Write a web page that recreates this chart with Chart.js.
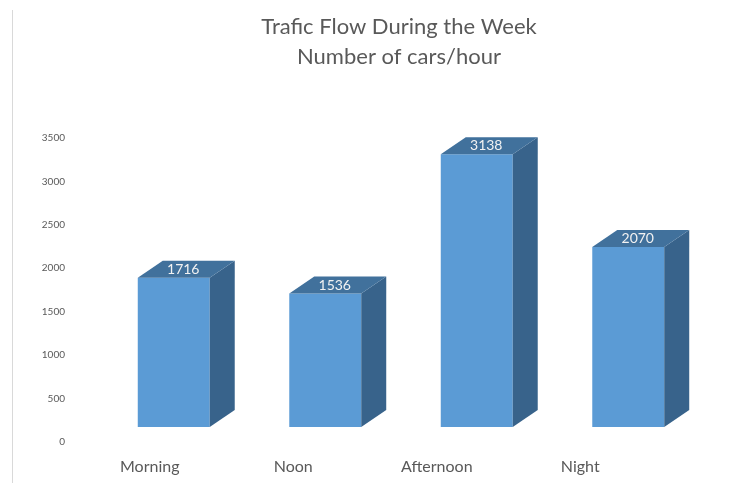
<!DOCTYPE html>
<html>
<head>
<meta charset="utf-8">
<script src="https://cdn.jsdelivr.net/npm/chart.js@4.4.0/dist/chart.umd.min.js"></script>
<style>
    html, body { margin: 0; padding: 0; background: #ffffff; }
    #wrap { width: 751px; height: 483px; position: relative; }
</style>
</head>
<body>
<div id="wrap"><canvas id="myChartTrafego"></canvas></div>
<script>
const categorias = ['Morning', 'Noon', 'Afternoon', 'Night'];
const carrosPorHora = [1716, 1536, 3138, 2070];
const ticksY = [0, 500, 1000, 1500, 2000, 2500, 3000, 3500];
const tituloLinhas = ['Trafic Flow During the Week', 'Number of cars/hour'];

const corFrente = '#5b9bd5';
const corTopo = '#41719c';
const corLado = '#38638b';
const corTexto = '#595959';

// profundidade do efeito 3d
const prof = { dx: 25, dy: 17 };

const barras3d = {
    id: 'barras3d',
    beforeDraw(chart) {
        // linha fina da borda esquerda da imagem original
        const ctx = chart.ctx;
        ctx.save();
        ctx.strokeStyle = '#d9d9d9';
        ctx.lineWidth = 1;
        ctx.beginPath();
        ctx.moveTo(12.5, 10);
        ctx.lineTo(12.5, 483);
        ctx.stroke();
        ctx.restore();
    },
    afterDatasetsDraw(chart) {
        const ctx = chart.ctx;
        const meta = chart.getDatasetMeta(0);
        ctx.save();
        meta.data.forEach((bar, i) => {
            const p = bar.getProps(['x', 'y', 'base', 'width'], true);
            const esq = p.x - p.width / 2;
            const dir = p.x + p.width / 2;

            // lado
            ctx.fillStyle = corLado;
            ctx.beginPath();
            ctx.moveTo(dir, p.y);
            ctx.lineTo(dir + prof.dx, p.y - prof.dy);
            ctx.lineTo(dir + prof.dx, p.base - prof.dy);
            ctx.lineTo(dir, p.base);
            ctx.closePath();
            ctx.fill();

            // topo
            ctx.fillStyle = corTopo;
            ctx.beginPath();
            ctx.moveTo(esq, p.y);
            ctx.lineTo(esq + prof.dx, p.y - prof.dy);
            ctx.lineTo(dir + prof.dx, p.y - prof.dy);
            ctx.lineTo(dir, p.y);
            ctx.closePath();
            ctx.fill();

            // valor no topo
            ctx.fillStyle = '#f2f2f2';
            ctx.font = '14px Lato';
            ctx.textAlign = 'center';
            ctx.textBaseline = 'middle';
            ctx.fillText(carrosPorHora[i], p.x + prof.dx / 2 - 3, p.y - prof.dy / 2);
        });

        // rotulos das categorias (deslocados pela perspectiva)
        const escalaX = chart.scales.x;
        ctx.fillStyle = corTexto;
        ctx.font = '16px Lato';
        ctx.textAlign = 'center';
        ctx.textBaseline = 'middle';
        categorias.forEach((nome, i) => {
            const x = escalaX.getPixelForValue(i) - 24 - 8 * i;
            ctx.fillText(nome, x, chart.chartArea.bottom + 40);
        });
        ctx.restore();
    }
};

const ctxTrafego = document.getElementById('myChartTrafego');
const dataTrafego = {
    labels: categorias,
    datasets: [{
        label: 'Cars/hour',
        data: carrosPorHora,
        backgroundColor: corFrente,
        borderWidth: 0,
        barPercentage: 0.475,
        categoryPercentage: 1
    }]
};
const configTrafego = {
    type: 'bar',
    data: dataTrafego,
    options: {
        responsive: true,
        maintainAspectRatio: false,
        animation: false,
        layout: {
            // direita negativa para o titulo ficar centrado como no original
            padding: { left: 0, right: -47, top: 0, bottom: 56 }
        },
        plugins: {
            legend: { display: false },
            tooltip: { enabled: false },
            title: {
                display: true,
                text: tituloLinhas,
                color: corTexto,
                font: { family: 'Lato', size: 22, weight: 'normal', lineHeight: 1.36 },
                padding: { top: 12, bottom: 51 }
            }
        },
        scales: {
            x: {
                display: false
            },
            y: {
                min: 0,
                max: 3500,
                afterBuildTicks: scale => {
                    scale.ticks = ticksY.map(v => ({ value: v }));
                },
                afterFit: scale => {
                    scale.width = 98;
                },
                grid: { display: false, drawTicks: false },
                border: { display: false },
                ticks: {
                    color: corTexto,
                    font: { family: 'Lato', size: 10 },
                    padding: 33,
                    labelOffset: 15,
                    callback: v => String(v)
                }
            },
            // eixo vazio a direita so para reservar espaco
            yDir: {
                position: 'right',
                min: 0,
                max: 3500,
                afterFit: scale => {
                    scale.width = 94;
                },
                grid: { display: false, drawTicks: false },
                border: { display: false },
                ticks: { display: false }
            }
        }
    },
    plugins: [barras3d]
};

new Chart(ctxTrafego, configTrafego);
</script>
</body>
</html>
